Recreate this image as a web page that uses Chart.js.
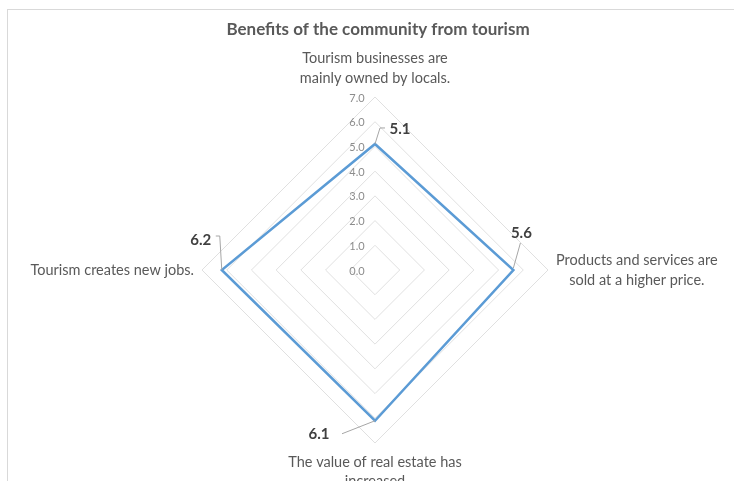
<!DOCTYPE html>
<html>
<head>
<meta charset="utf-8">
<script src="https://cdn.jsdelivr.net/npm/chart.js@4"></script>
<style>
  body { margin: 0; background: #fff; overflow: hidden; }
  #frame { position: absolute; left: 7px; top: 9px; width: 740px; height: 490px; border: 1px solid #d9d9d9; }
  #myChart { position: absolute; left: 0; top: 0; }
</style>
</head>
<body>
<div id="frame"></div>
<canvas id="myChart" width="734" height="481"></canvas>
<script>
var chartTitle = 'Benefits of the community from tourism';
var categories = [
  ['Tourism businesses are', 'mainly owned by locals.'],
  ['Products and services are', 'sold at a higher price.'],
  ['The value of real estate has', 'increased'],
  ['Tourism creates new jobs.']
];
var values = [5.1, 5.6, 6.1, 6.2];
var tickValues = [0, 1, 2, 3, 4, 5, 6, 7];

var FONT = 'Lato, "Open Sans", sans-serif';

// draws title, tick labels, category labels and data labels
var labelPlugin = {
  id: 'labels',
  afterDatasetsDraw: function(chart) {
    var ctx = chart.ctx;
    var scale = chart.scales.r;
    var cx = scale.xCenter, cy = scale.yCenter;
    ctx.save();

    // title
    ctx.fillStyle = '#595959';
    ctx.font = 'bold 17px ' + FONT;
    ctx.textAlign = 'center';
    ctx.textBaseline = 'middle';
    ctx.fillText(chartTitle, 378, 30);

    // tick labels, left of the axis
    ctx.font = '11px ' + FONT;
    ctx.fillStyle = '#8c8c8c';
    for (var t of tickValues) {
      var d = scale.getDistanceFromCenterForValue(t);
      ctx.fillText(t.toFixed(1), cx - 18, cy - d + 1);
    }

    // category labels
    ctx.font = '14.5px ' + FONT;
    ctx.fillStyle = '#595959';
    for (var i = 0; i < categories.length; i++) {
      var p = scale.getPointPosition(i, scale.drawingArea);
      var lines = categories[i];
      if (i == 0) {
        ctx.textAlign = 'center';
        ctx.fillText(lines[0], p.x, p.y - 39);
        ctx.fillText(lines[1], p.x, p.y - 19);
      } else if (i == 1) {
        var w = Math.max(ctx.measureText(lines[0]).width, ctx.measureText(lines[1]).width);
        ctx.textAlign = 'center';
        ctx.fillText(lines[0], p.x + 8 + w / 2, p.y - 10);
        ctx.fillText(lines[1], p.x + 8 + w / 2, p.y + 10);
      } else if (i == 2) {
        ctx.textAlign = 'center';
        ctx.fillText(lines[0], p.x, p.y + 19);
        ctx.fillText(lines[1], p.x, p.y + 38);
      } else {
        ctx.textAlign = 'right';
        ctx.fillText(lines[0], p.x - 8, p.y);
      }
    }

    // data labels with leader lines
    var offsets = [[25, -15], [8, -37], [-56, 13], [-21, -30]];
    var leaders = [
      [[0, 0], [5, -16], [10, -16]],
      [[0, -2], [7, -27]],
      [[0, 0], [-33, 13]],
      [[0, 0], [-2, -34], [-6, -34]]
    ];
    var meta = chart.getDatasetMeta(0);
    ctx.font = 'bold 15px ' + FONT;
    ctx.textAlign = 'center';
    for (var j = 0; j < values.length; j++) {
      var pt = meta.data[j];
      ctx.strokeStyle = '#a6a6a6';
      ctx.lineWidth = 1;
      ctx.beginPath();
      for (var k = 0; k < leaders[j].length; k++) {
        var lx = pt.x + leaders[j][k][0], ly = pt.y + leaders[j][k][1];
        if (k == 0) ctx.moveTo(lx, ly); else ctx.lineTo(lx, ly);
      }
      ctx.stroke();
      ctx.fillStyle = '#404040';
      ctx.fillText(values[j].toFixed(1), pt.x + offsets[j][0], pt.y + offsets[j][1]);
    }
    ctx.restore();
  }
};

var ctx = document.getElementById('myChart').getContext('2d');
var myChart = new Chart(ctx, {
  type: 'radar',
  data: {
    labels: categories,
    datasets: [{
      data: values,
      borderColor: '#5b9bd5',
      borderWidth: 2.5,
      backgroundColor: 'rgba(0,0,0,0)',
      fill: false,
      pointRadius: 0,
      tension: 0
    }]
  },
  options: {
    responsive: false,
    animation: false,
    devicePixelRatio: 1,
    layout: { padding: { left: 202, right: 186, top: 97, bottom: 38 } },
    plugins: {
      legend: { display: false },
      title: { display: false },
      tooltip: { enabled: false }
    },
    scales: {
      r: {
        min: 0,
        max: 7,
        ticks: { display: false, stepSize: 1 },
        pointLabels: { display: false },
        angleLines: { display: false },
        grid: { color: '#e0e0e0', lineWidth: 1 }
      }
    }
  },
  plugins: [labelPlugin]
});
</script>
</body>
</html>
